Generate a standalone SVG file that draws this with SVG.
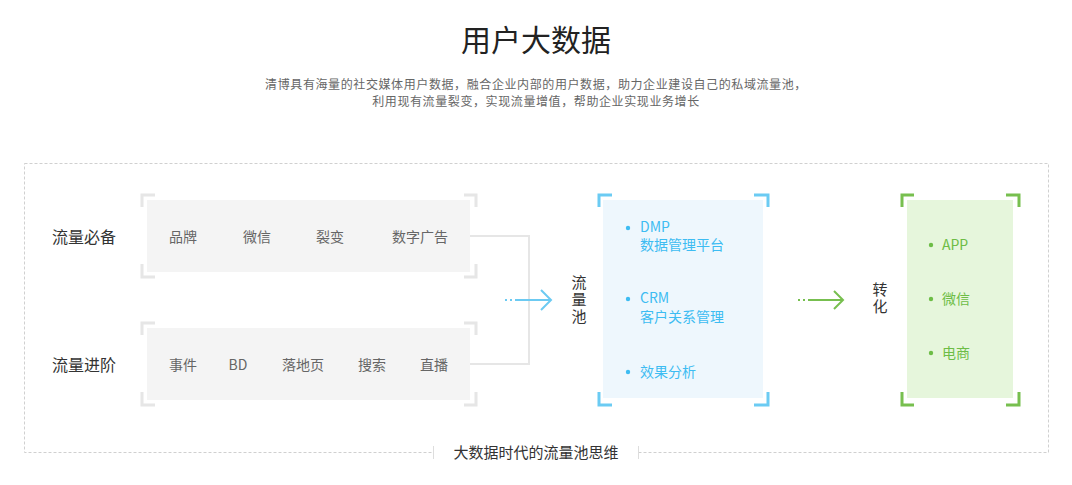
<svg xmlns="http://www.w3.org/2000/svg" width="1072" height="485" viewBox="0 0 1072 485">
<style>
text{font-family:"Noto Sans CJK SC","Microsoft YaHei",sans-serif}
.lbl{font-size:16px;fill:#333}
.item{font-size:14px;fill:#666;text-anchor:middle}
.gbox{fill:#f4f4f4}
.gbr{fill:none;stroke:#e6e6e6;stroke-width:3}
.bbr{fill:none;stroke:#6bcbf3;stroke-width:3}
.grbr{fill:none;stroke:#77bf4f;stroke-width:3}
.bt{font-size:14px;fill:#3dbcf2}
.gt{font-size:14px;fill:#6dbd46}
.conn{fill:none;stroke:#e6e6e6;stroke-width:2}
.vt{font-size:15px;fill:#333;writing-mode:vertical-rl;letter-spacing:2px}
.sub{font-size:12px;fill:#666;text-anchor:middle;letter-spacing:0.6px}
</style>
<rect width="1072" height="485" fill="#fff"/>
<g id="title">
<text x="536" y="51" font-size="30" fill="#222" text-anchor="middle">用户大数据</text>
<text class="sub" x="536" y="89">清博具有海量的社交媒体用户数据，融合企业内部的用户数据，助力企业建设自己的私域流量池，</text>
<text class="sub" x="536" y="106">利用现有流量裂变，实现流量增值，帮助企业实现业务增长</text>
</g>
<g id="frame">
<rect x="24.5" y="163.5" width="1024" height="289" fill="none" stroke="#d0d0d0" stroke-dasharray="3,2"/>
<rect x="434" y="444" width="204" height="16" fill="#fff"/>
<line x1="433.5" y1="446" x2="433.5" y2="459" stroke="#ddd"/>
<line x1="638.5" y1="446" x2="638.5" y2="459" stroke="#ddd"/>
<text x="536" y="458" font-size="15" fill="#333" text-anchor="middle">大数据时代的流量池思维</text>
</g>
<g id="connectors">
<polyline class="conn" points="470,236 529,236 529,364 470,364"/>
<g stroke="#6ccaf2" stroke-width="2" fill="none">
<line x1="505" y1="300" x2="507" y2="300"/>
<line x1="510" y1="300" x2="512" y2="300"/>
<line x1="515" y1="300" x2="551" y2="300"/>
<polyline points="541,290 551,300 541,310"/>
</g>
<g stroke="#77bf4f" stroke-width="2" fill="none">
<line x1="798" y1="300" x2="800" y2="300"/>
<line x1="803" y1="300" x2="805" y2="300"/>
<line x1="808" y1="300" x2="843" y2="300"/>
<polyline points="834,291 843,300 834,309"/>
</g>
</g>
<g id="node-basic">
<text class="lbl" x="52" y="243">流量必备</text>
<path class="gbr" d="M142,207V195H155M464,195H476V207M476,264V277H464M155,277H142V264"/>
<rect class="gbox" x="147" y="200" width="323" height="72"/>
<text class="item" x="183" y="242">品牌</text>
<text class="item" x="257" y="242">微信</text>
<text class="item" x="330" y="242">裂变</text>
<text class="item" x="420" y="242">数字广告</text>
</g>
<g id="node-advanced">
<text class="lbl" x="52" y="371">流量进阶</text>
<path class="gbr" d="M142,335V323H155M464,323H476V335M476,392V405H464M155,405H142V392"/>
<rect class="gbox" x="147" y="328" width="323" height="72"/>
<text class="item" x="183" y="370">事件</text>
<text class="item" x="238" y="370">BD</text>
<text class="item" x="303" y="370">落地页</text>
<text class="item" x="372" y="370">搜索</text>
<text class="item" x="434" y="370">直播</text>
</g>
<g id="node-pool-label">
<text class="vt" x="579" y="275">流量池</text>
</g>
<g id="node-pool">
<rect x="603" y="200" width="160" height="198" fill="#eef7fd"/>
<path class="bbr" d="M599,207V195H612M754,195H768V207M768,392V405H754M612,405H599V392"/>
<circle cx="628" cy="228" r="2.2" fill="#3dbcf2"/>
<text class="bt" x="640" y="232" font-size="15">DMP</text>
<text class="bt" x="640" y="250">数据管理平台</text>
<circle cx="628" cy="299" r="2.2" fill="#3dbcf2"/>
<text class="bt" x="640" y="303" font-size="15">CRM</text>
<text class="bt" x="640" y="322">客户关系管理</text>
<circle cx="628" cy="372" r="2.2" fill="#3dbcf2"/>
<text class="bt" x="640" y="377">效果分析</text>
</g>
<g id="node-convert-label">
<text class="vt" x="880" y="282">转化</text>
</g>
<g id="node-convert">
<rect x="907" y="200" width="106" height="198" fill="#e6f6dc"/>
<path class="grbr" d="M902,207V195H914M1006,195H1019V207M1019,392V405H1006M914,405H902V392"/>
<circle cx="931" cy="245" r="2.2" fill="#6dbd46"/>
<text class="gt" x="942" y="250">APP</text>
<circle cx="931" cy="299" r="2.2" fill="#6dbd46"/>
<text class="gt" x="942" y="304">微信</text>
<circle cx="931" cy="353" r="2.2" fill="#6dbd46"/>
<text class="gt" x="942" y="358">电商</text>
</g>
</svg>
